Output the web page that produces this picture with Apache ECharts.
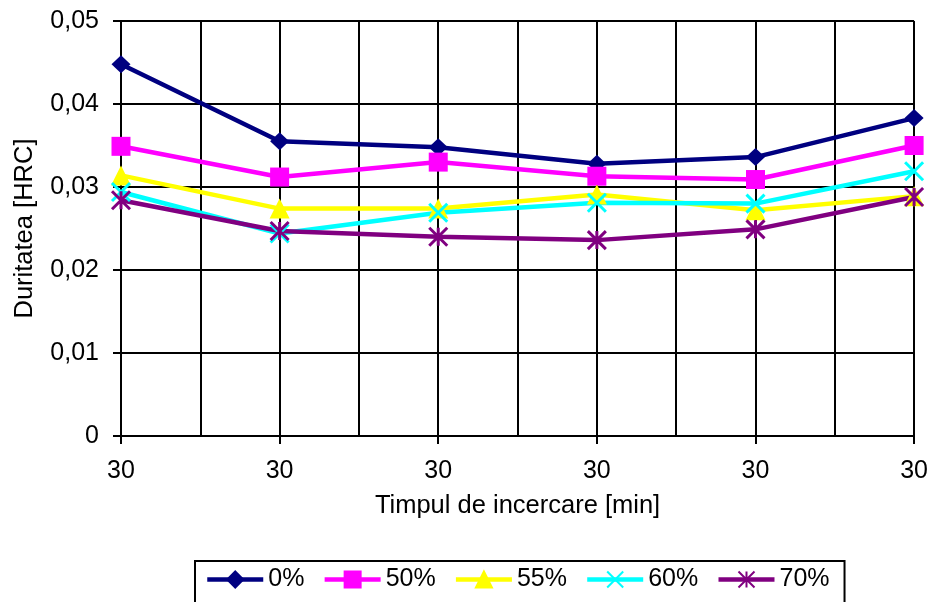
<!DOCTYPE html>
<html>
<head>
<meta charset="utf-8">
<script src="https://cdn.jsdelivr.net/npm/echarts@6/dist/echarts.min.js"></script>
<style>
  html, body { margin: 0; padding: 0; background: #fff; }
  #chart { width: 931px; height: 602px; }
</style>
</head>
<body>
<div id="chart"></div>
<script>
// Test duration categories (all runs at 30 min)
const categories = ['30', '30', '30', '30', '30', '30'];

// Hardness values per additive share
const seriesNames = ['0%', '50%', '55%', '60%', '70%'];
const values0 = [0.0448, 0.0355, 0.0348, 0.0328, 0.0336, 0.0383];
const values50 = [0.0349, 0.0312, 0.0330, 0.0313, 0.0309, 0.0350];
const values55 = [0.0314, 0.0274, 0.0274, 0.0291, 0.0272, 0.0289];
const values60 = [0.0294, 0.0244, 0.0269, 0.0281, 0.0280, 0.0319];
const values70 = [0.0284, 0.0247, 0.0240, 0.0236, 0.0249, 0.0288];

// Y tick labels (decimal comma)
const yTickLabels = ['0', '0,01', '0,02', '0,03', '0,04', '0,05'];

const FONT = "'Liberation Sans', Arial, sans-serif";
const colors = ['#000080', '#FF00FF', '#FFFF00', '#00FFFF', '#800080'];
const symbols = [
  'diamond',
  'rect',
  'triangle',
  'path://M0,0L10,10M10,0L0,10',
  'path://M0,0L10,10M10,0L0,10M5,0L5,10'
];
const symbolSizes = [[19, 18], 19, 20, 18, 18];
const dataSets = [values0, values50, values55, values60, values70];

const chart = echarts.init(document.getElementById('chart'), null, { renderer: 'canvas' });

const series = seriesNames.map((name, i) => {
  const stroked = i >= 3;
  return {
    name: name,
    type: 'line',
    xAxisIndex: 0,
    data: dataSets[i],
    symbol: symbols[i],
    symbolSize: symbolSizes[i],
    showAllSymbol: true,
    lineStyle: { color: colors[i], width: 4.5 },
    itemStyle: {
      color: colors[i],
      borderColor: colors[i],
      borderWidth: stroked ? 3 : 0
    },
    emphasis: { disabled: true }
  };
});

chart.setOption({
  animation: false,
  backgroundColor: '#ffffff',
  grid: { left: 121, right: 14, top: 21, bottom: 166, containLabel: false },
  xAxis: [
    {
      type: 'category',
      data: categories,
      boundaryGap: false,
      position: 'bottom',
      axisLine: { show: true, lineStyle: { color: '#000', width: 2 } },
      axisTick: { show: true, alignWithLabel: true, length: 8, lineStyle: { color: '#000', width: 2 } },
      axisLabel: { color: '#000', fontSize: 25, fontFamily: FONT, margin: 23, interval: 0 },
      splitLine: { show: false },
      name: 'Timpul de incercare [min]',
      nameLocation: 'middle',
      nameGap: 57,
      nameTextStyle: { color: '#000', fontSize: 25.5, fontFamily: FONT }
    },
    {
      // helper axis: vertical grid lines at categories and midpoints
      type: 'category',
      data: new Array(categories.length * 2 - 1).fill(''),
      boundaryGap: false,
      position: 'bottom',
      axisLine: { show: false },
      axisTick: { show: false },
      axisLabel: { show: false },
      splitLine: { show: true, interval: 0, lineStyle: { color: '#000', width: 2 } }
    }
  ],
  yAxis: {
    type: 'value',
    min: 0,
    max: 0.05,
    interval: 0.01,
    axisLine: { show: true, lineStyle: { color: '#000', width: 2 } },
    axisTick: { show: true, length: 8, lineStyle: { color: '#000', width: 2 } },
    axisLabel: {
      color: '#000', fontSize: 25, fontFamily: FONT, margin: 22,
      formatter: v => yTickLabels[Math.round(v / 0.01)]
    },
    splitLine: { show: true, lineStyle: { color: '#000', width: 2 } },
    name: 'Duritatea [HRC]',
    nameLocation: 'middle',
    nameGap: 83,
    nameTextStyle: { color: '#000', fontSize: 25.5, fontFamily: FONT }
  },
  legend: {
    show: true,
    data: seriesNames,
    orient: 'horizontal',
    left: 195,
    top: 561,
    itemWidth: 56,
    itemHeight: 20,
    itemGap: 18,
    padding: [6, 15, 20, 10],
    borderColor: '#000',
    borderWidth: 2,
    backgroundColor: '#fff',
    textStyle: { color: '#000', fontSize: 25, fontFamily: FONT },
    lineStyle: { width: 4.5 },
    itemStyle: { borderWidth: 2 },
    selectedMode: false
  },
  series: series
});
</script>
</body>
</html>
